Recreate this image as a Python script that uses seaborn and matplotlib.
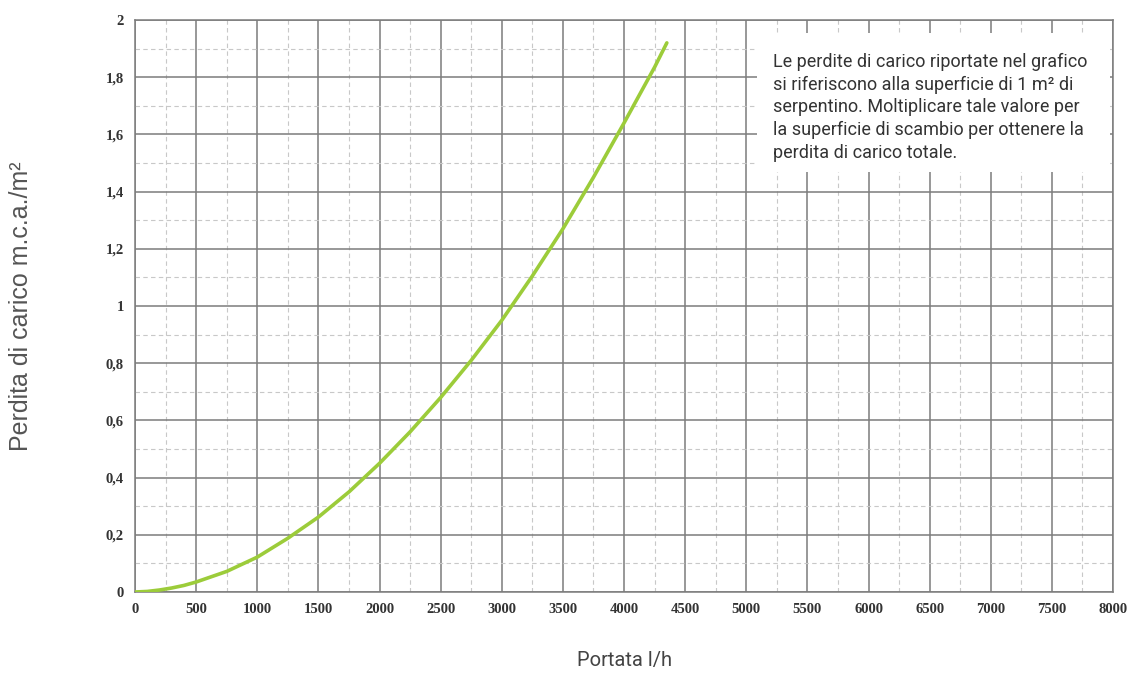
import numpy as np
import pandas as pd
import seaborn as sns
import matplotlib.pyplot as plt
from matplotlib.patches import Rectangle
from matplotlib.ticker import MultipleLocator, FuncFormatter

# Values
portata = [0, 100, 200, 300, 400, 500, 750, 1000, 1250, 1500, 1750, 2000, 2250,
           2500, 2750, 3000, 3250, 3500, 3750, 4000, 4250, 4350]
perdita = [0.0, 0.002, 0.007, 0.014, 0.023, 0.035, 0.072, 0.122, 0.188, 0.262,
           0.35, 0.45, 0.56, 0.68, 0.81, 0.95, 1.105, 1.27, 1.45, 1.64, 1.835, 1.92]

x_label = 'Portata l/h'
y_label = 'Perdita di carico m.c.a./m²'
note = ('Le perdite di carico riportate nel grafico\n'
        'si riferiscono alla superficie di 1 m² di\n'
        'serpentino. Moltiplicare tale valore per\n'
        'la superficie di scambio per ottenere la\n'
        'perdita di carico totale.')

data = pd.DataFrame({'portata': portata, 'perdita': perdita})

sns.set_style('white')
plt.rcParams['font.family'] = ['Roboto', 'DejaVu Sans']

fig = plt.figure(figsize=(11.3, 6.8), dpi=100)
ax = fig.add_axes([0.1195, 0.1294, 0.8655, 0.8412])

sns.lineplot(x='portata', y='perdita', data=data, ax=ax, color='#9ccc3a',
             linewidth=2.6, zorder=5)

ax.set_xlim(0, 8000)
ax.set_ylim(0, 2)
ax.xaxis.set_major_locator(MultipleLocator(500))
ax.xaxis.set_minor_locator(MultipleLocator(250))
ax.yaxis.set_major_locator(MultipleLocator(0.2))
ax.yaxis.set_minor_locator(MultipleLocator(0.1))

def comma_fmt(v, pos):
    s = ('%.1f' % v).rstrip('0').rstrip('.')
    return s.replace('.', ',')

ax.yaxis.set_major_formatter(FuncFormatter(comma_fmt))
ax.xaxis.set_major_formatter(FuncFormatter(lambda v, p: '%d' % v))

ax.grid(which='major', color='#7c7c7c', linewidth=1.1, linestyle='-')
ax.grid(which='minor', color='#c8c8c8', linewidth=0.8, linestyle=(0, (4, 3)))
ax.set_axisbelow(True)
for sp in ax.spines.values():
    sp.set_color('#7c7c7c')
    sp.set_linewidth(1.1)

ax.tick_params(which='both', length=0, pad=8)
for lab in ax.get_xticklabels() + ax.get_yticklabels():
    lab.set_family('Liberation Serif')
    lab.set_fontsize(10.5)
    lab.set_fontweight('bold')
    lab.set_color('#333333')

ax.set_xlabel('')
ax.set_ylabel('')
fig.text(0.553, 0.028, x_label, ha='center', va='center', fontsize=14.5, color='#444444')
fig.text(0.019, 0.55, y_label, ha='center', va='center', rotation=90,
         fontsize=18, color='#555555', family='Liberation Sans')

# white note box over the grid
ax.add_patch(Rectangle((0.636, 0.734), 0.361, 0.243, transform=ax.transAxes,
                       facecolor='white', edgecolor='none', zorder=3))
ax.text(0.652, 0.943, note, transform=ax.transAxes, ha='left', va='top',
        fontsize=13, color='#333333', linespacing=1.34, zorder=6)

plt.savefig('out.png', dpi=100)
plt.close()
